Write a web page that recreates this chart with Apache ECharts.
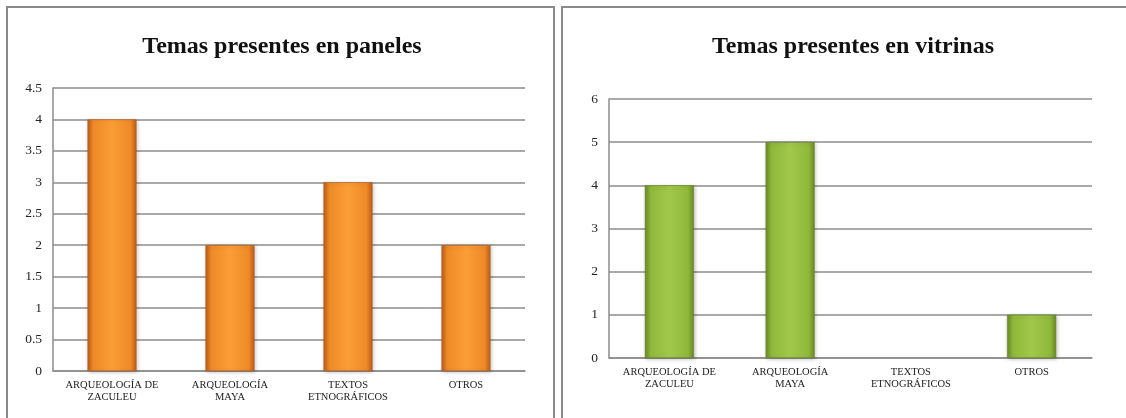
<!DOCTYPE html>
<html>
<head>
<meta charset="utf-8">
<script src="https://cdn.jsdelivr.net/npm/echarts@6/dist/echarts.min.js"></script>
<style>
	html, body { margin: 0; padding: 0; background: #fff; }
	#chart { width: 1126px; height: 418px; }
</style>
</head>
<body>
<div id="chart"></div>
<script>
// categorias y valores
var categorias = ['ARQUEOLOGÍA DE\nZACULEU', 'ARQUEOLOGÍA\nMAYA', 'TEXTOS\nETNOGRÁFICOS', 'OTROS'];
var paneles = [4, 2, 3, 2];
var vitrinas = [4, 5, 0, 1];
var ticksPaneles = { min: 0, max: 4.5, interval: 0.5 };
var ticksVitrinas = { min: 0, max: 6, interval: 1 };

var serif = '"Liberation Serif", "DejaVu Serif", serif';
var gris = '#8c8c8c';

function barColor(dark, mid, light) {
	return new echarts.graphic.LinearGradient(0, 0, 1, 0, [
		{ offset: 0, color: dark },
		{ offset: 0.12, color: mid },
		{ offset: 0.5, color: light },
		{ offset: 0.88, color: mid },
		{ offset: 1, color: dark }
	]);
}

// una barra de valor 0 no se dibuja
function barData(values) {
	return values.map(function (v) {
		return v === 0 ? { value: v, itemStyle: { opacity: 0 } } : v;
	});
}

function xAxis(gridIndex) {
	return {
		type: 'category',
		gridIndex: gridIndex,
		data: categorias,
		axisTick: { show: false },
		axisLine: { lineStyle: { color: gris, width: 1.5 } },
		axisLabel: {
			color: '#222', fontFamily: serif, fontSize: 10.5,
			margin: 8, lineHeight: 12, interval: 0
		}
	};
}

function yAxis(gridIndex, t) {
	return {
		type: 'value',
		gridIndex: gridIndex,
		min: t.min, max: t.max, interval: t.interval,
		axisLine: { show: true, lineStyle: { color: gris, width: 1.5 } },
		axisTick: { show: false },
		splitLine: { lineStyle: { color: gris, width: 1.5 } },
		axisLabel: { color: '#222', fontFamily: serif, fontSize: 13.5, margin: 11 }
	};
}

var myChart = echarts.init(document.getElementById('chart'));
var option = {
	animation: false,
	title: [
		{
			text: 'Temas presentes en paneles',
			left: 277, top: 30, textAlign: 'center',
			textStyle: { fontFamily: serif, fontSize: 24, fontWeight: 'bold', color: '#111' }
		},
		{
			text: 'Temas presentes en vitrinas',
			left: 848, top: 30, textAlign: 'center',
			textStyle: { fontFamily: serif, fontSize: 24, fontWeight: 'bold', color: '#111' }
		}
	],
	graphic: [
		{ type: 'rect', shape: { x: 7, y: 7, width: 547, height: 420 }, style: { fill: 'none', stroke: '#8a8a8a', lineWidth: 2 }, z: 100 },
		{ type: 'rect', shape: { x: 562, y: 7, width: 580, height: 420 }, style: { fill: 'none', stroke: '#8a8a8a', lineWidth: 2 }, z: 100 }
	],
	grid: [
		{ left: 53, top: 88, width: 472, height: 283 },
		{ left: 609, top: 99, width: 483, height: 259 }
	],
	xAxis: [xAxis(0), xAxis(1)],
	yAxis: [
		yAxis(0, ticksPaneles),
		yAxis(1, ticksVitrinas)
	],
	series: [
		{
			name: 'paneles', type: 'bar', xAxisIndex: 0, yAxisIndex: 0,
			data: barData(paneles), barWidth: 49,
			itemStyle: {
				color: barColor('#bb5c18', '#ee8a28', '#fb9e36'),
				borderColor: '#b5571a', borderWidth: 0.5,
				shadowColor: 'rgba(0,0,0,0.25)', shadowBlur: 4, shadowOffsetX: 1, shadowOffsetY: 1
			}
		},
		{
			name: 'vitrinas', type: 'bar', xAxisIndex: 1, yAxisIndex: 1,
			data: barData(vitrinas), barWidth: 49,
			itemStyle: {
				color: barColor('#6b8a24', '#8fb83a', '#a2c84a'),
				borderColor: '#5f7d22', borderWidth: 0.5,
				shadowColor: 'rgba(0,0,0,0.25)', shadowBlur: 4, shadowOffsetX: 1, shadowOffsetY: 1
			}
		}
	]
};
myChart.setOption(option);
</script>
</body>
</html>
